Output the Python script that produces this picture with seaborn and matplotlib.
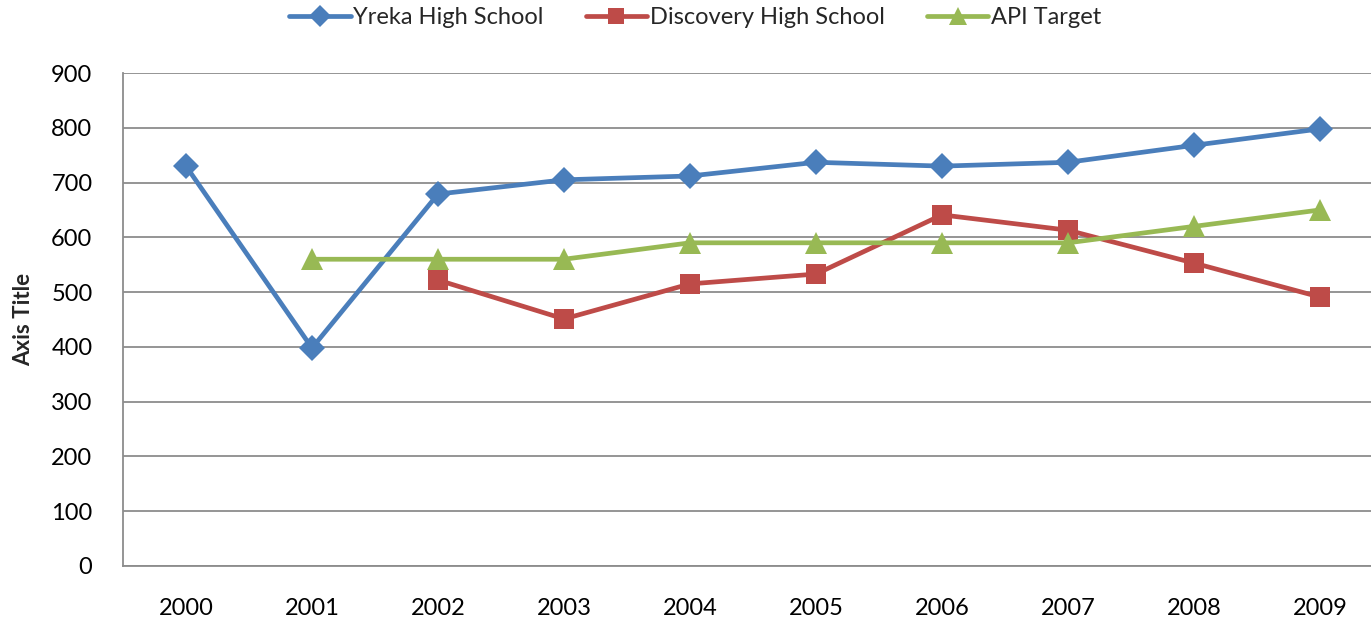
import numpy as np
import pandas as pd
import matplotlib
matplotlib.use("Agg")
import matplotlib.pyplot as plt
import seaborn as sns

years = [2000, 2001, 2002, 2003, 2004, 2005, 2006, 2007, 2008, 2009]
yreka = [730, 398, 679, 705, 712, 737, 730, 737, 768, 798]
discovery = [np.nan, np.nan, 522, 451, 515, 533, 641, 613, 553, 491]
api_target = [np.nan, 560, 560, 560, 590, 590, 590, 590, 620, 650]
series_names = ["Yreka High School", "Discovery High School", "API Target"]
y_ticks = [0, 100, 200, 300, 400, 500, 600, 700, 800, 900]

df = pd.DataFrame({
    "Year": years * 3,
    "Value": yreka + discovery + api_target,
    "Series": [series_names[0]] * 10 + [series_names[1]] * 10 + [series_names[2]] * 10,
}).dropna()

sns.set_theme(style="white")
plt.rcParams['font.family'] = ['Lato', 'DejaVu Sans']

colors = {series_names[0]: "#4A7EBB", series_names[1]: "#BE4B48", series_names[2]: "#98B954"}
markers = {series_names[0]: "D", series_names[1]: "s", series_names[2]: "^"}
msizes = {series_names[0]: 13, series_names[1]: 14, series_names[2]: 16}

fig = plt.figure(figsize=(13.71, 6.2), dpi=100)
ax = fig.add_axes([123 / 1371, 1 - 566 / 620, 1260 / 1371, 493 / 620])

sns.lineplot(data=df, x="Year", y="Value", hue="Series", style="Series",
             palette=colors, markers=markers, dashes=False, linewidth=3.4,
             markersize=12, markeredgewidth=0, ax=ax, hue_order=series_names,
             style_order=series_names, legend=True)

for line, name in zip(ax.lines, series_names):
    line.set_markersize(msizes[name])

ax.set_xlim(1999.5, 2009.5)
ax.set_ylim(0, 900)
ax.set_yticks(y_ticks)
ax.set_xticks(years)
ax.set_xticklabels([str(y) for y in years])
ax.tick_params(axis="both", length=0, labelsize=17, colors="black")
ax.tick_params(axis="x", pad=23)
ax.tick_params(axis="y", pad=22)
ax.grid(axis="y", color="#8C8C8C", linewidth=1.3)
ax.set_axisbelow(True)
for side in ["top", "right"]:
    ax.spines[side].set_visible(False)
for side in ["left", "bottom"]:
    ax.spines[side].set_color("#8C8C8C")
    ax.spines[side].set_linewidth(1.3)
ax.set_xlabel("")
ax.set_ylabel("Axis Title", fontsize=16, fontweight="bold", labelpad=12)

handles, labels = ax.get_legend_handles_labels()
leg = ax.legend(handles, labels, loc="center", bbox_to_anchor=(695 / 1371, 1 - 18 / 620),
                bbox_transform=fig.transFigure, ncol=3, frameon=False, fontsize=17,
                handlelength=2.6, handletextpad=0.1, columnspacing=1.8)
for h, name in zip(leg.legend_handles, series_names):
    h.set_markersize(msizes[name] * 0.85)
    h.set_linewidth(3.4)

fig.savefig("out.png", dpi=100)
